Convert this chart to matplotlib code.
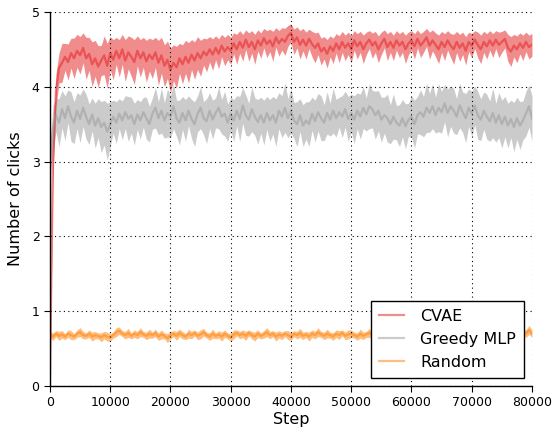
import numpy as np
import matplotlib
matplotlib.use("Agg")
import matplotlib.pyplot as plt

step_size = 500
labels = ["CVAE", "Greedy MLP", "Random"]

cvae_mean = [0.1, 3.0, 3.95, 4.25, 4.32, 4.4, 4.33, 4.45, 4.38, 4.48,
             4.42, 4.52, 4.38, 4.44, 4.3, 4.38, 4.27, 4.35, 4.42, 4.28,
             4.45, 4.36, 4.48, 4.38, 4.5, 4.35, 4.46, 4.4, 4.33, 4.48,
             4.38, 4.46, 4.34, 4.43, 4.37, 4.46, 4.32, 4.42, 4.28, 4.36,
             4.22, 4.32, 4.26, 4.38, 4.3, 4.4, 4.32, 4.43, 4.35, 4.45,
             4.38, 4.47, 4.42, 4.5, 4.43, 4.52, 4.44, 4.55, 4.47, 4.53,
             4.48, 4.58, 4.5, 4.6, 4.52, 4.63, 4.53, 4.6, 4.5, 4.62,
             4.55, 4.65, 4.57, 4.62, 4.54, 4.66, 4.58, 4.64, 4.6, 4.68,
             4.72, 4.6, 4.66, 4.56, 4.63, 4.55, 4.64, 4.57, 4.52, 4.58,
             4.47, 4.52, 4.44, 4.54, 4.48, 4.58, 4.5, 4.6, 4.52, 4.58,
             4.5, 4.62, 4.54, 4.6, 4.5, 4.58, 4.63, 4.55, 4.6, 4.5,
             4.58, 4.64, 4.53, 4.6, 4.52, 4.62, 4.55, 4.6, 4.5, 4.58,
             4.62, 4.54, 4.64, 4.55, 4.6, 4.66, 4.55, 4.62, 4.56, 4.5,
             4.6, 4.53, 4.62, 4.55, 4.5, 4.6, 4.52, 4.58, 4.48, 4.6,
             4.55, 4.63, 4.56, 4.5, 4.6, 4.54, 4.62, 4.55, 4.63, 4.56,
             4.6, 4.64, 4.52, 4.47, 4.55, 4.5, 4.58, 4.52, 4.6, 4.53,
             4.56]
cvae_spread = [0.05, 0.25, 0.22, 0.2, 0.26, 0.18, 0.24, 0.2, 0.27, 0.22,
               0.25, 0.2, 0.28, 0.22, 0.3, 0.24, 0.28, 0.2, 0.26, 0.3,
               0.22, 0.27, 0.18, 0.25, 0.2, 0.28, 0.22, 0.26, 0.3, 0.2,
               0.25, 0.2, 0.28, 0.22, 0.26, 0.2, 0.3, 0.24, 0.28, 0.25,
               0.3, 0.24, 0.28, 0.2, 0.26, 0.22, 0.27, 0.2, 0.25, 0.22,
               0.24, 0.18, 0.22, 0.17, 0.21, 0.16, 0.2, 0.15, 0.19, 0.17,
               0.18, 0.14, 0.2, 0.15, 0.18, 0.13, 0.19, 0.15, 0.2, 0.14,
               0.17, 0.13, 0.18, 0.15, 0.2, 0.13, 0.17, 0.15, 0.18, 0.14,
               0.12, 0.17, 0.14, 0.19, 0.15, 0.18, 0.13, 0.17, 0.2, 0.15,
               0.18, 0.15, 0.19, 0.14, 0.17, 0.13, 0.18, 0.14, 0.17, 0.15,
               0.18, 0.13, 0.17, 0.14, 0.19, 0.15, 0.12, 0.17, 0.14, 0.18,
               0.15, 0.12, 0.18, 0.14, 0.17, 0.13, 0.16, 0.14, 0.19, 0.15,
               0.13, 0.17, 0.12, 0.16, 0.14, 0.12, 0.18, 0.14, 0.16, 0.19,
               0.14, 0.18, 0.13, 0.16, 0.2, 0.14, 0.18, 0.15, 0.19, 0.13,
               0.16, 0.12, 0.17, 0.19, 0.14, 0.17, 0.13, 0.16, 0.12, 0.17,
               0.14, 0.12, 0.18, 0.2, 0.15, 0.18, 0.14, 0.17, 0.13, 0.16,
               0.15]

greedy_mean = [3.0, 3.45, 3.62, 3.52, 3.7, 3.58, 3.74, 3.6, 3.52, 3.68,
               3.57, 3.72, 3.6, 3.5, 3.63, 3.48, 3.58, 3.46, 3.52, 3.4,
               3.5, 3.6, 3.52, 3.64, 3.55, 3.66, 3.57, 3.62, 3.5, 3.63,
               3.55, 3.66, 3.58, 3.5, 3.64, 3.72, 3.58, 3.68, 3.55, 3.65,
               3.6, 3.74, 3.58, 3.52, 3.65, 3.55, 3.68, 3.57, 3.5, 3.64,
               3.72, 3.58, 3.54, 3.68, 3.56, 3.65, 3.72, 3.6, 3.64, 3.52,
               3.64, 3.55, 3.68, 3.57, 3.75, 3.62, 3.56, 3.7, 3.6, 3.53,
               3.62, 3.52, 3.65, 3.55, 3.62, 3.52, 3.68, 3.6, 3.72, 3.58,
               3.68, 3.55, 3.5, 3.62, 3.48, 3.55, 3.5, 3.64, 3.54, 3.66,
               3.58, 3.52, 3.65, 3.56, 3.68, 3.58, 3.66, 3.6, 3.7, 3.57,
               3.65, 3.56, 3.68, 3.6, 3.72, 3.63, 3.74, 3.7, 3.62, 3.68,
               3.56, 3.62, 3.58, 3.5, 3.6, 3.52, 3.48, 3.58, 3.47, 3.56,
               3.6, 3.5, 3.62, 3.66, 3.6, 3.72, 3.65, 3.74, 3.62, 3.72,
               3.66, 3.78, 3.65, 3.74, 3.68, 3.6, 3.75, 3.66, 3.58, 3.72,
               3.64, 3.75, 3.62, 3.56, 3.68, 3.6, 3.54, 3.65, 3.52, 3.62,
               3.5, 3.6, 3.48, 3.57, 3.46, 3.58, 3.48, 3.55, 3.64, 3.74,
               3.58]
greedy_spread = [0.2, 0.3, 0.22, 0.32, 0.25, 0.3, 0.22, 0.33, 0.28, 0.24,
                 0.32, 0.25, 0.3, 0.27, 0.22, 0.3, 0.26, 0.34, 0.3, 0.38,
                 0.3, 0.22, 0.28, 0.2, 0.26, 0.22, 0.3, 0.24, 0.28, 0.2,
                 0.25, 0.2, 0.28, 0.24, 0.21, 0.27, 0.22, 0.3, 0.24, 0.32,
                 0.28, 0.3, 0.24, 0.3, 0.22, 0.28, 0.2, 0.26, 0.3, 0.24,
                 0.28, 0.22, 0.3, 0.24, 0.26, 0.2, 0.28, 0.23, 0.3, 0.25,
                 0.22, 0.28, 0.2, 0.3, 0.24, 0.27, 0.22, 0.3, 0.25, 0.3,
                 0.24, 0.3, 0.22, 0.28, 0.25, 0.32, 0.24, 0.28, 0.33, 0.26,
                 0.3, 0.24, 0.3, 0.22, 0.28, 0.25, 0.3, 0.22, 0.28, 0.25,
                 0.3, 0.24, 0.28, 0.22, 0.3, 0.25, 0.2, 0.28, 0.24, 0.3,
                 0.25, 0.32, 0.24, 0.3, 0.28, 0.22, 0.3, 0.25, 0.32, 0.27,
                 0.3, 0.24, 0.32, 0.26, 0.3, 0.23, 0.28, 0.25, 0.3, 0.22,
                 0.28, 0.32, 0.25, 0.3, 0.27, 0.33, 0.26, 0.3, 0.24, 0.32,
                 0.28, 0.25, 0.32, 0.27, 0.3, 0.24, 0.3, 0.27, 0.33, 0.25,
                 0.3, 0.26, 0.32, 0.28, 0.25, 0.3, 0.27, 0.33, 0.26, 0.3,
                 0.32, 0.27, 0.3, 0.25, 0.33, 0.28, 0.32, 0.26, 0.3, 0.28,
                 0.3]

random_mean = [0.68, 0.66, 0.7, 0.67, 0.69, 0.66, 0.7, 0.68, 0.66, 0.7,
               0.72, 0.68, 0.67, 0.7, 0.66, 0.68, 0.67, 0.65, 0.68, 0.66,
               0.65, 0.68, 0.72, 0.74, 0.7, 0.68, 0.71, 0.67, 0.7, 0.68,
               0.72, 0.69, 0.67, 0.7, 0.68, 0.71, 0.66, 0.69, 0.67, 0.64,
               0.68, 0.7, 0.67, 0.71, 0.68, 0.66, 0.7, 0.68, 0.71, 0.67,
               0.69, 0.72, 0.68, 0.66, 0.7, 0.67, 0.69, 0.66, 0.7, 0.67,
               0.65, 0.69, 0.71, 0.68, 0.7, 0.67, 0.71, 0.68, 0.66, 0.7,
               0.67, 0.69, 0.72, 0.68, 0.7, 0.66, 0.69, 0.67, 0.7, 0.68,
               0.66, 0.7, 0.68, 0.71, 0.67, 0.69, 0.66, 0.7, 0.68, 0.72,
               0.69, 0.67, 0.7, 0.68, 0.66, 0.7, 0.68, 0.71, 0.67, 0.69,
               0.7, 0.68, 0.66, 0.7, 0.67, 0.69, 0.71, 0.68, 0.7, 0.66,
               0.69, 0.67, 0.7, 0.68, 0.71, 0.67, 0.69, 0.66, 0.7, 0.68,
               0.67, 0.7, 0.68, 0.71, 0.69, 0.66, 0.7, 0.68, 0.67, 0.7,
               0.68, 0.71, 0.67, 0.69, 0.7, 0.66, 0.69, 0.68, 0.71, 0.67,
               0.7, 0.68, 0.66, 0.7, 0.67, 0.69, 0.71, 0.68, 0.7, 0.67,
               0.69, 0.68, 0.71, 0.67, 0.7, 0.68, 0.69, 0.72, 0.7, 0.75,
               0.7]
random_spread = [0.04, 0.05, 0.04, 0.06, 0.05, 0.04, 0.05, 0.06, 0.04, 0.05,
                 0.06, 0.05, 0.04, 0.05, 0.06, 0.05, 0.04, 0.06, 0.05, 0.06,
                 0.05, 0.04, 0.06, 0.05, 0.04, 0.05, 0.06, 0.04, 0.05, 0.05,
                 0.06, 0.04, 0.05, 0.06, 0.04, 0.05, 0.05, 0.06, 0.04, 0.06,
                 0.05, 0.04, 0.06, 0.05, 0.05, 0.04, 0.06, 0.05, 0.04, 0.05,
                 0.06, 0.05, 0.04, 0.05, 0.06, 0.04, 0.05, 0.06, 0.05, 0.04,
                 0.05, 0.06, 0.04, 0.05, 0.05, 0.06, 0.04, 0.05, 0.06, 0.05,
                 0.04, 0.05, 0.06, 0.05, 0.04, 0.06, 0.05, 0.05, 0.04, 0.06,
                 0.05, 0.04, 0.05, 0.06, 0.05, 0.04, 0.06, 0.05, 0.05, 0.06,
                 0.04, 0.05, 0.06, 0.04, 0.05, 0.05, 0.06, 0.04, 0.05, 0.06,
                 0.05, 0.04, 0.05, 0.06, 0.05, 0.04, 0.06, 0.05, 0.04, 0.05,
                 0.06, 0.05, 0.04, 0.05, 0.06, 0.04, 0.05, 0.06, 0.05, 0.04,
                 0.05, 0.06, 0.04, 0.05, 0.05, 0.06, 0.04, 0.05, 0.06, 0.05,
                 0.04, 0.05, 0.06, 0.05, 0.04, 0.06, 0.05, 0.05, 0.04, 0.06,
                 0.05, 0.04, 0.05, 0.06, 0.05, 0.04, 0.06, 0.05, 0.05, 0.06,
                 0.04, 0.05, 0.06, 0.04, 0.05, 0.05, 0.06, 0.04, 0.05, 0.06,
                 0.05]

series = [
    (labels[0], cvae_mean, cvae_spread, "#e41a1c"),
    (labels[1], greedy_mean, greedy_spread, "#999999"),
    (labels[2], random_mean, random_spread, "#ff7f00"),
]

plt.rcParams["font.family"] = ["DejaVu Sans"]
fig = plt.figure(figsize=(5.55, 4.29), dpi=100)
ax = fig.add_axes([0.090, 0.1002, 0.8685, 0.872])

for name, mean, spread, color in series:
    m = np.array(mean)
    s = np.array(spread)
    steps = np.arange(len(m)) * step_size
    ax.fill_between(steps, m - s, m + s, color=color, alpha=0.5, lw=0)
    ax.plot(steps, m, color=color, alpha=0.5, lw=1.6, label=name)

ax.set_xlim(0, 80000)
ax.set_ylim(0, 5)
ax.set_xticks(np.arange(0, 80001, 10000))
ax.set_yticks(np.arange(0, 6, 1))
ax.grid(True, color="k", linestyle=(0, (1, 3)), linewidth=0.8)
ax.set_axisbelow(False)
for side in ["top", "right"]:
    ax.spines[side].set_visible(False)
for side in ["left", "bottom"]:
    ax.spines[side].set_color("k")
    ax.spines[side].set_linewidth(1)
ax.tick_params(direction="out", length=4, labelsize=9, colors="k")
ax.set_xlabel("Step", fontsize=11.5, labelpad=2)
ax.set_ylabel("Number of clicks", fontsize=11.5, labelpad=6)

leg = ax.legend(loc="lower right", fontsize=11.5, fancybox=False,
                edgecolor="k", framealpha=1, handlelength=1.6,
                handletextpad=1.0, borderpad=0.5)
leg.get_frame().set_linewidth(1)

fig.savefig("out.png", dpi=100)
